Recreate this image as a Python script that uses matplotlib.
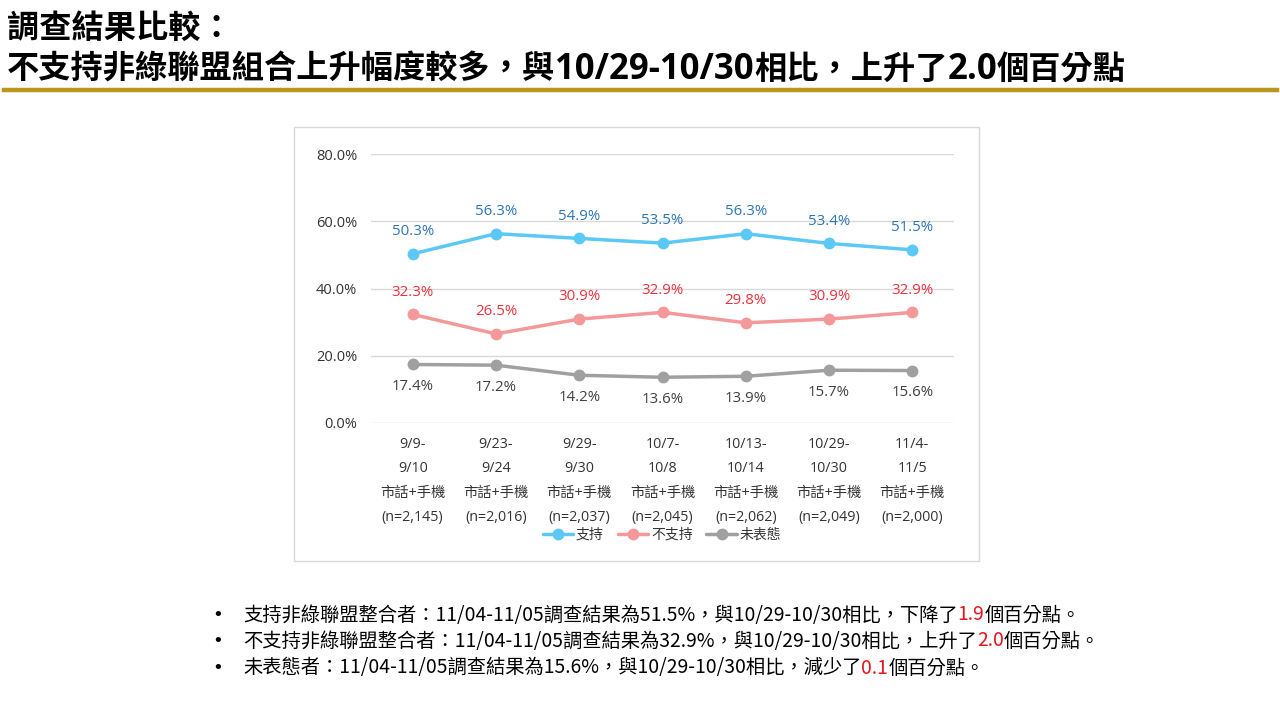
import matplotlib
matplotlib.use("Agg")
import matplotlib.pyplot as plt
from matplotlib.patches import Rectangle
from matplotlib.lines import Line2D

# Latin glyphs from Open Sans, CJK falls back to Noto Sans CJK TC
plt.rcParams['font.family'] = ['Open Sans', 'Noto Sans CJK TC', 'DejaVu Sans']
CJK_FONT = ['Noto Sans CJK TC', 'DejaVu Sans']

# data
periods = ["9/9-\n9/10", "9/23-\n9/24", "9/29-\n9/30", "10/7-\n10/8",
           "10/13-\n10/14", "10/29-\n10/30", "11/4-\n11/5"]
samples = ["2,145", "2,016", "2,037", "2,045", "2,062", "2,049", "2,000"]
support = [50.3, 56.3, 54.9, 53.5, 56.3, 53.4, 51.5]
oppose = [32.3, 26.5, 30.9, 32.9, 29.8, 30.9, 32.9]
undecided = [17.4, 17.2, 14.2, 13.6, 13.9, 15.7, 15.6]
series_names = ["支持", "不支持", "未表態"]

W, H = 1280, 720
fig = plt.figure(figsize=(12.8, 7.2), dpi=100)
renderer = fig.canvas.get_renderer()


def fx(px):
    return px / W


def fy(py):
    return 1 - py / H


def split_script(s):
    # split into runs of CJK / non-CJK chars
    segs = []
    for ch in s:
        cjk = ord(ch) >= 0x2E80
        if segs and segs[-1][1] == cjk:
            segs[-1][0] += ch
        else:
            segs.append([ch, cjk])
    return segs


def draw_runs(x_px, base_px, text, cjk_size, lat_size, weight='normal'):
    xpos = fx(x_px)
    for seg, cjk in split_script(text):
        t = fig.text(xpos, fy(base_px), seg, fontsize=cjk_size if cjk else lat_size,
                     va='baseline', ha='left', fontweight=weight)
        xpos += t.get_window_extent(renderer=renderer).width / W


# title
draw_runs(7, 38, "調查結果比較：", 23.2, 25, 'bold')
draw_runs(7, 79, "不支持非綠聯盟組合上升幅度較多，與10/29-10/30相比，上升了2.0個百分點",
          23.2, 25, 'bold')
fig.add_artist(Line2D([fx(4), fx(1277)], [fy(90), fy(90)], color='#BA961F',
                      lw=3.2, transform=fig.transFigure))

# chart frame
fig.add_artist(Rectangle((fx(294), fy(561)), fx(979) - fx(294), fy(127) - fy(561),
                         transform=fig.transFigure, fill=False,
                         edgecolor='#D9D9D9', lw=1))

ax = fig.add_axes([fx(371), fy(423), fx(954) - fx(371), fy(154) - fy(423)])
x = list(range(len(periods)))
ax.set_xlim(-0.5, len(periods) - 0.5)
ax.set_ylim(0, 80)
ax.set_yticks([0, 20, 40, 60, 80])
ax.set_yticklabels([f"{v:.1f}%" for v in [0, 20, 40, 60, 80]], fontsize=10.5,
                   color='#333333')
ax.grid(axis='y', color='#D9D9D9', lw=1)
ax.set_axisbelow(True)
for s in ax.spines.values():
    s.set_visible(False)
ax.tick_params(length=0)
ax.tick_params(axis='y', pad=10)

ax.set_xticks(x)
ax.set_xticklabels([f"{p}\n市話+手機\n(n={n})" for p, n in zip(periods, samples)],
                   fontsize=10.3, color='#333333', linespacing=1.85, va='top')
ax.tick_params(axis='x', pad=10)

styles = [
    (support, '#5BC8F5', '#2E75B6', 16),
    (oppose, '#F4989A', '#E8323C', 16),
    (undecided, '#A0A0A0', '#404040', -16),
]
for (vals, lc, tc, off), name in zip(styles, series_names):
    ax.plot(x, vals, color=lc, lw=2.5, marker='o', markersize=7.5, label=name,
            solid_capstyle='round')
    for xi, v in zip(x, vals):
        ax.annotate(f"{v:.1f}%", (xi, v), xytext=(0, off), textcoords='offset points',
                    ha='center', va='center', fontsize=10.8, color=tc)

fig.legend(*ax.get_legend_handles_labels(), loc='center', ncol=3,
           bbox_to_anchor=(fx(662), fy(535)), frameon=False, fontsize=10,
           handlelength=2.2, handletextpad=0.2, columnspacing=1.0,
           labelcolor='#333333')

# bullet notes with red numbers
notes = [
    ("支持非綠聯盟整合者：11/04-11/05調查結果為51.5%，與10/29-10/30相比，下降了", "1.9", "個百分點。"),
    ("不支持非綠聯盟整合者：11/04-11/05調查結果為32.9%，與10/29-10/30相比，上升了", "2.0", "個百分點。"),
    ("未表態者：11/04-11/05調查結果為15.6%，與10/29-10/30相比，減少了", "0.1", "個百分點。"),
]
note_y = [615, 641, 668]
for (a, b, c), py in zip(notes, note_y):
    fig.text(fx(212), fy(py), "•", fontsize=13, va='center', ha='left',
             family='DejaVu Sans')
    xpos = fx(243)
    for part, col in ((a, 'black'), (b, '#E8141C'), (c, 'black')):
        t = fig.text(xpos, fy(py), part, fontsize=13.9, va='center', ha='left',
                     color=col, family=CJK_FONT)
        xpos += t.get_window_extent(renderer=renderer).width / W

fig.savefig("out.png", dpi=100)
